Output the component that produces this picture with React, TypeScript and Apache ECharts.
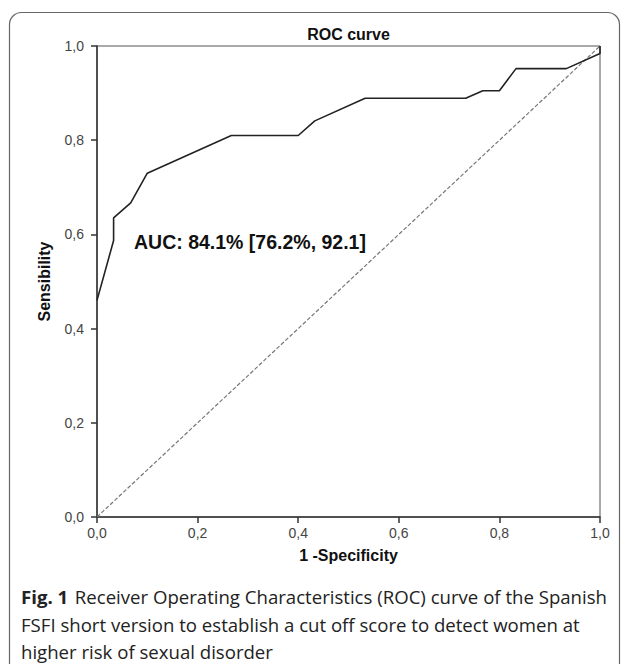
import React, { useEffect, useRef } from "react";
import * as echarts from "echarts";

const fpr = [0, 0.033, 0.033, 0.067, 0.1, 0.267, 0.4, 0.433, 0.533, 0.733, 0.767, 0.8, 0.833, 0.933, 1.0, 1.0];
const tpr = [0.46, 0.587, 0.635, 0.667, 0.73, 0.81, 0.81, 0.841, 0.889, 0.889, 0.905, 0.905, 0.952, 0.952, 0.984, 1.0];
const refX = [0, 1];
const refY = [0, 1];
const axisTicks = [0, 0.2, 0.4, 0.6, 0.8, 1.0];
const titleText = "ROC curve";
const xName = "1 -Specificity";
const yName = "Sensibility";
const aucText = "AUC: 84.1% [76.2%, 92.1]";
const captionLines = [
  "Receiver Operating Characteristics (ROC) curve of the Spanish",
  "FSFI short version to establish a cut off score to detect women at",
  "higher risk of sexual disorder",
];

const fmt = (v: number) => v.toFixed(1).replace(".", ",");

export default function App() {
  const ref = useRef<HTMLDivElement>(null);
  useEffect(() => {
    document.body.style.margin = "0";
    const chart = echarts.init(ref.current!, null, { renderer: "svg" });
    const font = "'Liberation Sans', Arial, sans-serif";
    const capFont = "'Open Sans', 'Noto Sans', sans-serif";
    const capSize = 18.6;
    const axisCommon = {
      type: "value" as const,
      min: 0,
      max: 1,
      interval: 0.2,
      axisLine: { show: true, lineStyle: { color: "#333", width: 1.5 } },
      axisTick: { show: true, inside: false, length: 6, lineStyle: { color: "#333", width: 1.5 } },
      splitLine: { show: false },
      axisLabel: {
        formatter: (v: number) => (axisTicks.some((t) => Math.abs(t - v) < 1e-6) ? fmt(v) : ""),
        color: "#444",
        fontSize: 14,
        fontFamily: font,
      },
      nameTextStyle: { color: "#111", fontSize: 16, fontWeight: "bold" as const, fontFamily: font },
      nameLocation: "middle" as const,
    };
    chart.setOption({
      animation: false,
      backgroundColor: "#fff",
      title: {
        text: titleText,
        left: 348.5,
        top: 26,
        padding: 0,
        textAlign: "center",
        textStyle: { fontSize: 16, fontWeight: "bold", color: "#111", fontFamily: font },
      },
      grid: {
        left: 97,
        right: 29,
        top: 46,
        bottom: 147,
        show: true,
        borderColor: "#555",
        borderWidth: 1,
        containLabel: false,
      },
      xAxis: { ...axisCommon, name: xName, nameGap: 30, axisLabel: { ...axisCommon.axisLabel, margin: 9 } },
      yAxis: { ...axisCommon, name: yName, nameGap: 45, axisLabel: { ...axisCommon.axisLabel, margin: 13 } },
      series: [
        {
          type: "line",
          data: refX.map((x, i) => [x, refY[i]]),
          symbol: "none",
          lineStyle: { color: "#777", width: 1.2, type: [4, 2] },
          z: 2,
        },
        {
          type: "line",
          data: fpr.map((x, i) => [x, tpr[i]]),
          symbol: "none",
          lineStyle: { color: "#222", width: 1.6 },
          z: 3,
        },
      ],
      graphic: [
        {
          type: "rect",
          shape: { x: 9.5, y: 12.5, width: 610, height: 720, r: 12 },
          style: { fill: "none", stroke: "#666", lineWidth: 1.2 },
          silent: true,
        },
        {
          type: "text",
          x: 134,
          y: 242,
          style: { text: aucText, fontSize: 19.5, fontWeight: "bold", fill: "#111", fontFamily: font, verticalAlign: "middle" },
        },
        {
          type: "text",
          x: 21,
          y: 596,
          style: {
            text: "{b|Fig. 1}  {n|" + captionLines[0] + "}",
            verticalAlign: "middle",
            rich: {
              b: { fontSize: capSize, fontWeight: "bold", fill: "#222", fontFamily: capFont },
              n: { fontSize: capSize, fill: "#222", fontFamily: capFont },
            },
          },
        },
        {
          type: "text",
          x: 21,
          y: 624,
          style: { text: captionLines[1], fontSize: capSize, fill: "#222", fontFamily: capFont, verticalAlign: "middle" },
        },
        {
          type: "text",
          x: 21,
          y: 651,
          style: { text: captionLines[2], fontSize: capSize, fill: "#222", fontFamily: capFont, verticalAlign: "middle" },
        },
      ],
    });
    return () => chart.dispose();
  }, []);
  return <div ref={ref} style={{ position: "fixed", left: 0, top: 0, width: 629, height: 664 }} />;
}
